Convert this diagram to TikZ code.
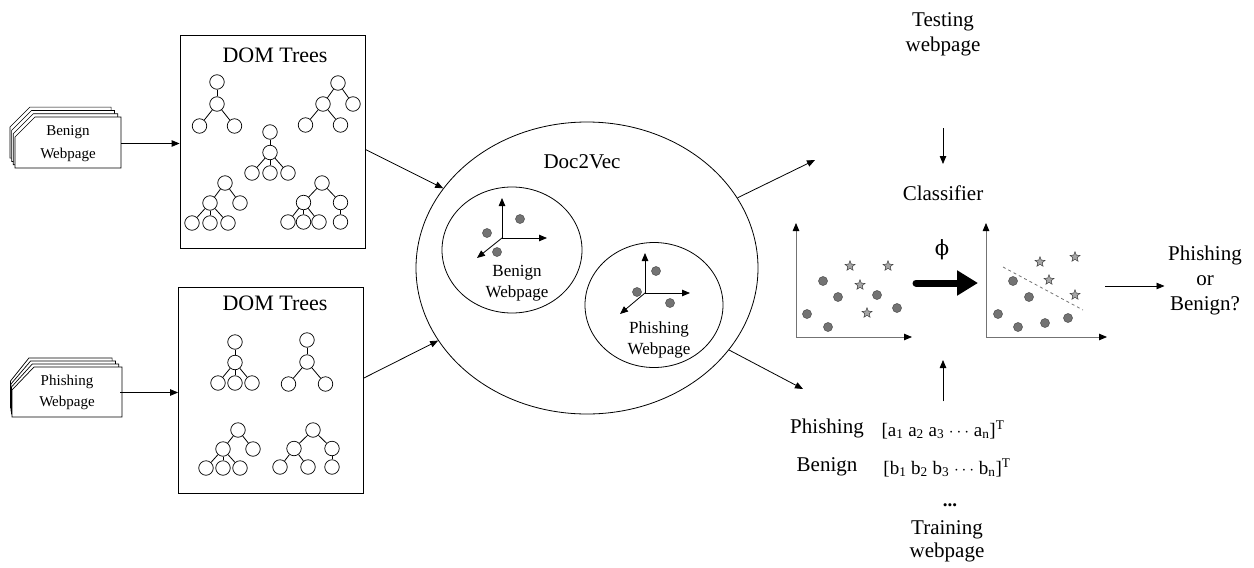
\documentclass[tikz,border=0pt]{standalone}
\usepackage{fontspec}
\setmainfont{Liberation Serif}
\newfontfamily\phifont{DejaVu Serif}
\usetikzlibrary{positioning,arrows.meta,shapes.geometric,calc}

\tikzset{
  >={Triangle[length=8pt,width=6.5pt]},
  page/.style={draw,fill=white,line width=0.7pt},
  pagetext/.style={font=\fontsize{15}{23}\selectfont,align=center,minimum width=106pt,minimum height=51pt,inner sep=0pt},
  lbl/.style={font=\fontsize{21}{25}\selectfont,align=center},
  midlbl/.style={font=\fontsize{17}{21}\selectfont,align=center},
  dnode/.style={circle,draw,line width=0.7pt,minimum size=14.5pt,inner sep=0pt},
  dot/.style={circle,fill=black!55,draw=black!70,line width=0.5pt,minimum size=9pt,inner sep=0pt},
  pstar/.style={star,star points=5,star point ratio=2.3,fill=black!35,draw=black!75,line width=0.5pt,minimum size=10.5pt,inner sep=0pt},
  axis/.style={draw=black!55,-{Triangle[length=8pt,width=6.5pt,color=black]}},
}

\begin{document}
\begin{tikzpicture}[x=1pt,y=-1pt,line width=0.8pt]
\useasboundingbox (0,0) rectangle (1254,568);

% input webpages
\foreach \k in {3,2,1}
  \draw[page] ({15-1.7*\k},{137-3.3*\k}) -- ({35-1.7*\k},{117-3.3*\k}) -- ({121-3.3*\k},{117-3.3*\k}) -- ({121-3.3*\k},{168-3.3*\k}) -- ({15-1.7*\k},{168-3.3*\k}) -- cycle;
\draw[page] (15,137) -- (35,117) -- (121,117) -- (121,168) -- (15,168) -- cycle;
\node[pagetext] (benign) at (68,143.5) {Benign\\Webpage};

\foreach \k in {3,2,1}
  \draw[page] ({12-0.5*\k},{390-3*\k}) -- ({34-1.7*\k},{367-3*\k}) -- ({122-3.3*\k},{367-3*\k}) -- ({122-3.3*\k},{417-3*\k}) -- ({12-0.5*\k},{417-3*\k}) -- cycle;
\draw[page] (12,390) -- (34,367) -- (122,367) -- (122,417) -- (12,417) -- cycle;
\node[pagetext,font=\fontsize{15}{21}\selectfont] (phish) at (67,392.5) {Phishing\\Webpage};

% DOM tree boxes
\node[draw,minimum width=185pt,minimum height=213pt] (dom1) at (272.5,141.5) {};
\node[lbl,font=\fontsize{22}{25}\selectfont] (dom1title) at (275,55) {DOM Trees};
\node[draw,minimum width=185pt,minimum height=206pt] (dom2) at (271,390) {};
\node[lbl,font=\fontsize{22}{25}\selectfont] (dom2title) at (275,303) {DOM Trees};

\path[level distance=22pt,level 2/.style={sibling distance=35pt}]
  (217,82) node[dnode] (ta) {}
    child {node[dnode] {} child {node[dnode] {}} child {node[dnode] {}}};
\path[level distance=21pt,level 1/.style={sibling distance=30pt},level 2/.style={sibling distance=35pt}]
  (338,83) node[dnode] (tb) {}
    child {node[dnode] {} child {node[dnode] {}} child {node[dnode] {}}}
    child {node[dnode] {}};
\path[level distance=20.5pt,level 2/.style={sibling distance=18pt}]
  (270,132) node[dnode] (tc) {}
    child {node[dnode] {} child {node[dnode] {}} child {node[dnode] {}} child {node[dnode] {}}};
\path[level distance=20pt,level 1/.style={sibling distance=30pt},level 2/.style={sibling distance=18pt}]
  (225,183) node[dnode] (td) {}
    child {node[dnode] {} child {node[dnode] {}} child {node[dnode] {}} child {node[dnode] {}}}
    child {node[dnode] {}};
\path[level distance=19.5pt,level 1/.style={sibling distance=37pt},level 2/.style={sibling distance=15.5pt}]
  (322,183) node[dnode] (te) {}
    child {node[dnode] {} child {node[dnode] {}} child {node[dnode] {}} child {node[dnode] {}}}
    child {node[dnode] {} child {node[dnode] {}}};

\path[level distance=20.5pt,level 2/.style={sibling distance=17pt}]
  (235,342) node[dnode] (tf) {}
    child {node[dnode] {} child {node[dnode] {}} child {node[dnode] {}} child {node[dnode] {}}};
\path[level distance=22pt,level 2/.style={sibling distance=37pt}]
  (307,340) node[dnode] (tg) {}
    child {node[dnode] {} child {node[dnode] {}} child {node[dnode] {}}};
\path[level distance=19pt,level 1/.style={sibling distance=30pt},level 2/.style={sibling distance=17pt}]
  (238,430) node[dnode] (th) {}
    child {node[dnode] {} child {node[dnode] {}} child {node[dnode] {}} child {node[dnode] {}}}
    child {node[dnode] {}};
\path[level distance=18.5pt,level 1/.style={sibling distance=38pt},level 2/.style={sibling distance=28pt}]
  (313,430) node[dnode] (ti) {}
    child {node[dnode] {} child {node[dnode] {}} child {node[dnode] {}}}
    child {node[dnode] {} child {node[dnode] {}}};

\draw[->] (benign.east) -- (benign.east -| dom1.west);
\draw[->] (phish.east) -- (phish.east -| dom2.west);

% Doc2Vec
\node[draw,ellipse,minimum width=342pt,minimum height=292pt,inner sep=0pt] (doc) at (587,268) {};
\node[lbl] (doctitle) at (582,162) {Doc2Vec};
\node[draw,ellipse,minimum width=140pt,minimum height=126pt,inner sep=0pt] (bvec) at (512,250) {};
\node[draw,ellipse,minimum width=138pt,minimum height=125pt,inner sep=0pt] (pvec) at (654,305) {};

\draw[->] (502,238) -- (502,198);
\draw[->] (502,238) -- (547,238);
\draw[->] (502,238) -- (477,258);
\foreach \p [count=\i] in {(520,219),(487,233),(497,252)}
  \node[dot] (bd\i) at \p {};
\node[midlbl] (bvectext) at (517,283.5) {Benign\\Webpage};

\draw[->] (645,293) -- (645,253);
\draw[->] (645,293) -- (690,293);
\draw[->] (645,293) -- (620,314);
\foreach \p [count=\i] in {(656,271),(637,292),(670,303)}
  \node[dot] (pd\i) at \p {};
\node[midlbl] (pvectext) at (659,339.5) {Phishing\\Webpage};

\draw[->] ([yshift=-8pt]dom1.east) -- (doc.151);
\draw[->] ([yshift=12pt]dom2.east) -- (doc.206);

\coordinate (outA) at (815,160);
\coordinate (outB) at (803,389);
\draw[->] (doc.25) -- (outA);
\draw[->] (doc.-30) -- (outB);

% classifier
\node[lbl] (testing) at (943,34) {Testing\\webpage};
\node[lbl] (classifier) at (943,193) {Classifier};
\coordinate (clsin) at (943,164);
\draw[->] ([yshift=-69pt]testing.south) -- (clsin);

\draw[axis] (796,337) -- (796,223);
\draw[axis] (796,337) -- (912,337);
\foreach \p [count=\i] in {(823,281),(838,297),(807,314),(828,327),(877,295),(897,308)}
  \node[dot] (ad\i) at \p {};
\foreach \p [count=\i] in {(850,266),(888,266),(860,285),(867,313)}
  \node[pstar] (as\i) at \p {};

\draw[axis] (986,337) -- (986,223);
\draw[axis] (986,337) -- (1107,337);
\foreach \p [count=\i] in {(1013,281),(1029,297),(998,314),(1018,327),(1045,323),(1068,318)}
  \node[dot] (bd\i) at \p {};
\foreach \p [count=\i] in {(1040,262),(1075,257),(1049,280),(1075,295)}
  \node[pstar] (bs\i) at \p {};
\draw[dashed,draw=black!55] (1003,267) -- (1083,310);

\node[lbl,font=\phifont\fontsize{21}{25}\selectfont] (phi) at (942,250) {ϕ};
\coordinate (phiL) at (916,283);
\coordinate (phiR) at (978,283);
\draw[line width=7pt,line cap=round,-{Triangle[length=21pt,width=24pt]}] (phiL) -- (phiR);

\node[lbl] (result) at (1205,280) {Phishing\\or\\Benign?};
\coordinate (resout) at (1105,286);
\draw[->] (resout) -- (resout -| result.west);

% training data
\node[lbl] (phlab) at (827,428) {Phishing};
\node[lbl] (bnlab) at (827,467) {Benign};
\node[font=\fontsize{19}{23}\selectfont] (veca) at (943,430) {[a\textsubscript{1} a\textsubscript{2} a\textsubscript{3} $\cdots$ a\textsubscript{n}]\textsuperscript{T}};
\node[font=\fontsize{19}{23}\selectfont] (vecb) at (947,468) {[b\textsubscript{1} b\textsubscript{2} b\textsubscript{3} $\cdots$ b\textsubscript{n}]\textsuperscript{T}};
\node[lbl,font=\bfseries\fontsize{19}{23}\selectfont] (more) at (950,505) {...};
\node[lbl,font=\fontsize{21}{23}\selectfont] (training) at (947,541) {Training\\webpage};
\coordinate (clsbelow) at (943,360);
\draw[->] ([yshift=16pt]veca.north) -- (clsbelow);
\end{tikzpicture}
\end{document}
